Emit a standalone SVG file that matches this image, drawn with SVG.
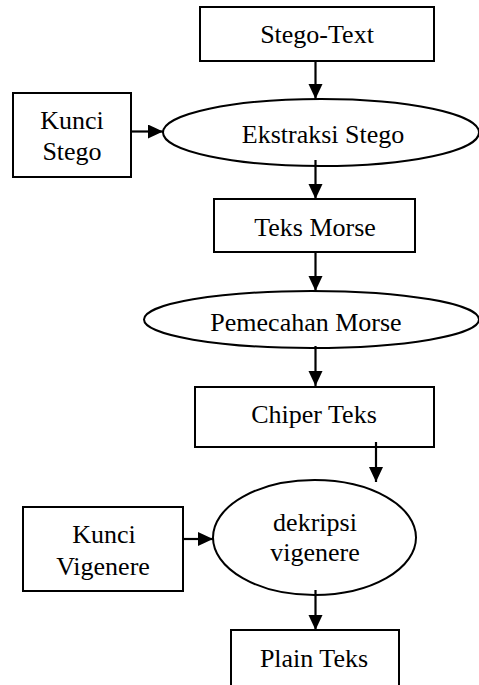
<svg xmlns="http://www.w3.org/2000/svg" width="479" height="685" viewBox="0 0 479 685">
<defs>
<style>
.box{fill:#fff;stroke:#000;stroke-width:2}
.ell{fill:#fff;stroke:#000;stroke-width:2}
.lbl{font-family:"Liberation Serif","Times New Roman",serif;font-size:26px;fill:#000;text-anchor:middle}
.con{stroke:#000;stroke-width:2.2;fill:none;marker-end:url(#ah)}
</style>
<marker id="ah" markerUnits="userSpaceOnUse" markerWidth="16" markerHeight="16" refX="15" refY="7" orient="auto">
<path d="M0,0 L15,7 L0,14 z" fill="#000"/>
</marker>
</defs>
<rect width="479" height="685" fill="#fff"/>
<g id="stego-text">
<rect class="box" x="200" y="7" width="234" height="54"/>
<text class="lbl" x="317" y="43">Stego-Text</text>
</g>
<g id="kunci-stego">
<rect class="box" x="13" y="93" width="118" height="84"/>
<text class="lbl" x="72" y="129">Kunci</text>
<text class="lbl" x="72" y="160">Stego</text>
</g>
<g id="ekstraksi-stego">
<ellipse class="ell" cx="321" cy="132.5" rx="158" ry="33.5"/>
<text class="lbl" x="323" y="143">Ekstraksi Stego</text>
</g>
<g id="teks-morse">
<rect class="box" x="214" y="199" width="201" height="53"/>
<text class="lbl" x="315" y="236">Teks Morse</text>
</g>
<g id="pemecahan-morse">
<ellipse class="ell" cx="311.5" cy="319.5" rx="167.5" ry="28.5"/>
<text class="lbl" x="306" y="331">Pemecahan Morse</text>
</g>
<g id="chiper-teks">
<rect class="box" x="195" y="387" width="239" height="60"/>
<text class="lbl" x="314" y="423">Chiper Teks</text>
</g>
<g id="kunci-vigenere">
<rect class="box" x="23" y="507" width="160" height="84"/>
<text class="lbl" x="104" y="543">Kunci</text>
<text class="lbl" x="103" y="575">Vigenere</text>
</g>
<g id="dekripsi-vigenere">
<ellipse class="ell" cx="314.5" cy="537.5" rx="101.5" ry="57.5"/>
<text class="lbl" x="315" y="531">dekripsi</text>
<text class="lbl" x="315" y="561">vigenere</text>
</g>
<g id="plain-teks">
<rect class="box" x="231" y="630" width="168" height="80"/>
<text class="lbl" x="314" y="667">Plain Teks</text>
</g>
<g id="connectors">
<line class="con" x1="315.5" y1="61" x2="315.5" y2="99"/>
<line class="con" x1="131" y1="131.5" x2="163" y2="131.5"/>
<line class="con" x1="315.5" y1="160" x2="315.5" y2="199"/>
<line class="con" x1="315.5" y1="252" x2="315.5" y2="291"/>
<line class="con" x1="315.5" y1="346" x2="315.5" y2="386"/>
<line class="con" x1="376" y1="442" x2="376" y2="482"/>
<line class="con" x1="183" y1="539" x2="213" y2="539"/>
<line class="con" x1="315.5" y1="590" x2="315.5" y2="630"/>
</g>
</svg>
